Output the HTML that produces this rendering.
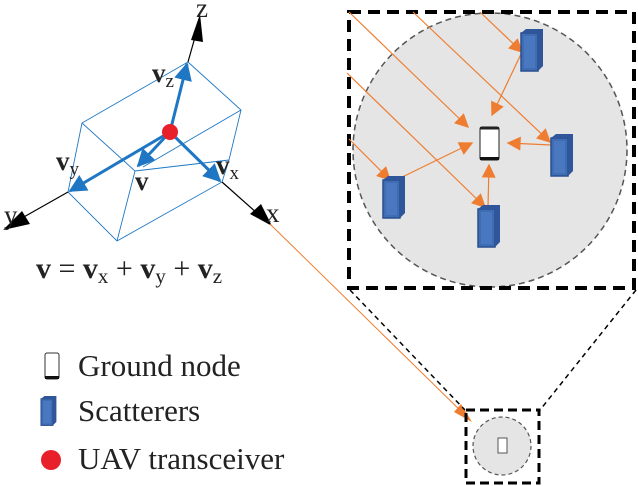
<!DOCTYPE html>
<html><head><style>body{margin:0;background:#fff}svg{display:block}</style></head><body>
<svg width="638" height="486" viewBox="0 0 638 486" xmlns="http://www.w3.org/2000/svg" font-family="Liberation Serif, serif">
<defs>
<marker id="bl" viewBox="0 0 10 10" refX="9" refY="5" markerWidth="6" markerHeight="6" orient="auto"><path d="M0,0L10,5L0,10z" fill="#1f77c4"/></marker>
<marker id="or" viewBox="0 0 10 10" refX="9" refY="5" markerWidth="16" markerHeight="14" orient="auto" markerUnits="userSpaceOnUse"><path d="M0,0L10,5L0,10z" fill="#ee7d31"/></marker>
<g id="sc"><rect x="0" y="4" width="17" height="38" fill="#3f6db3" stroke="#2a4e8e" stroke-width="1.5"/><path d="M0,4L5,0H22V37L17,42V4Z" fill="#2f559a"/><rect x="3" y="7" width="11" height="32" fill="#4a78c0"/></g>
</defs>
<g stroke="#1f77c4" stroke-width="0.9" fill="none">
<path d="M188,62L241,110L229,160L222,182L117,241L68,192L82,123L188,62"/>
<path d="M82,123L135,171L117,241M241,110L143,167M135,171L229,160"/>
</g>
<g stroke="#000" stroke-width="1.2">
<line x1="188" y1="62" x2="197" y2="30"/>
<line x1="68" y1="192" x2="15" y2="222"/>
<line x1="222" y1="182" x2="258" y2="214"/>
</g>
<path d="M200,14L191,40L203,42Z" fill="#000"/>
<path d="M3,230L22,211L30,224Z" fill="#000"/>
<path d="M272,226L250,214L261,204Z" fill="#000"/>
<line x1="270" y1="224" x2="468" y2="418" stroke="#ee7d31" stroke-width="1"/>
<path d="M472,422L461,404L454,412Z" fill="#ee7d31"/>
<g stroke="#1f77c4" stroke-width="3" marker-end="url(#bl)">
<line x1="170" y1="132" x2="187" y2="64"/>
<line x1="170" y1="132" x2="70" y2="191"/>
<line x1="170" y1="132" x2="220" y2="181"/>
<line x1="170" y1="132" x2="138" y2="166"/>
</g>
<circle cx="170" cy="132" r="8" fill="#e8202a"/>
<g font-size="27" fill="#222">
<text x="196" y="17">z</text>
<text x="266" y="222">x</text>
<text x="4" y="224">y</text>
<text x="152" y="82" font-weight="bold">v<tspan font-weight="normal" font-size="19" dy="5">z</tspan></text>
<text x="56" y="170" font-weight="bold">v<tspan font-weight="normal" font-size="19" dy="5">y</tspan></text>
<text x="135" y="190" font-weight="bold">v</text>
<text x="216" y="174" font-weight="bold">v<tspan font-weight="normal" font-size="19" dy="5">x</tspan></text>
</g>
<text x="36" y="278" font-size="30" fill="#222"><tspan font-weight="bold">v</tspan> = <tspan font-weight="bold">v</tspan><tspan font-size="21" dy="5">x</tspan><tspan dy="-5"> + </tspan><tspan font-weight="bold">v</tspan><tspan font-size="21" dy="5">y</tspan><tspan dy="-5"> + </tspan><tspan font-weight="bold">v</tspan><tspan font-size="21" dy="5">z</tspan></text>
<rect x="45" y="353" width="14" height="26" rx="2" fill="#fff" stroke="#333" stroke-width="1"/>
<rect x="45" y="376" width="14" height="3" fill="#111"/>
<use href="#sc" transform="translate(41,396) scale(0.7)"/>
<circle cx="51" cy="460" r="10" fill="#e8202a"/>
<g font-size="31" fill="#222">
<text x="78" y="376">Ground node</text>
<text x="78" y="421">Scatterers</text>
<text x="78" y="469">UAV transceiver</text>
</g>
<g stroke="#000" stroke-width="1.5" stroke-dasharray="5,4" fill="none">
<line x1="350" y1="290" x2="465" y2="410"/>
<line x1="636" y1="290" x2="540" y2="410"/>
</g>
<circle cx="490" cy="150" r="137" fill="#e5e5e5" stroke="#555" stroke-width="1.5" stroke-dasharray="6,4"/>
<rect x="349" y="12" width="285" height="276" fill="none" stroke="#000" stroke-width="4" stroke-dasharray="12,7"/>
<g stroke="#ee7d31" stroke-width="1.2" marker-end="url(#or)">
<line x1="349" y1="12" x2="468" y2="127"/>
<line x1="413" y1="12" x2="550" y2="142"/>
<line x1="480" y1="12" x2="522" y2="52"/>
<line x1="347" y1="73" x2="485" y2="207"/>
<line x1="349" y1="139" x2="390" y2="180"/>
<line x1="522" y1="52" x2="492" y2="115"/>
<line x1="392" y1="182" x2="472" y2="143"/>
<line x1="551" y1="145" x2="508" y2="143"/>
<line x1="488" y1="207" x2="489" y2="165"/>
</g>
<rect x="480" y="127" width="19" height="33" rx="2" fill="#fff" stroke="#444" stroke-width="1.2"/>
<rect x="480" y="127" width="19" height="2.5" fill="#222"/><rect x="480" y="157" width="19" height="3" fill="#111"/>
<use href="#sc" x="521" y="29"/>
<use href="#sc" x="551" y="134"/>
<use href="#sc" x="383" y="176"/>
<use href="#sc" x="478" y="205"/>
<circle cx="502" cy="446" r="29" fill="#e5e5e5" stroke="#555" stroke-width="1.2" stroke-dasharray="4,3"/>
<rect x="466" y="410" width="73" height="73" fill="none" stroke="#000" stroke-width="3" stroke-dasharray="9,5"/>
<rect x="498" y="438" width="9" height="15" fill="#fff" stroke="#555"/>
</svg>
</body></html>
